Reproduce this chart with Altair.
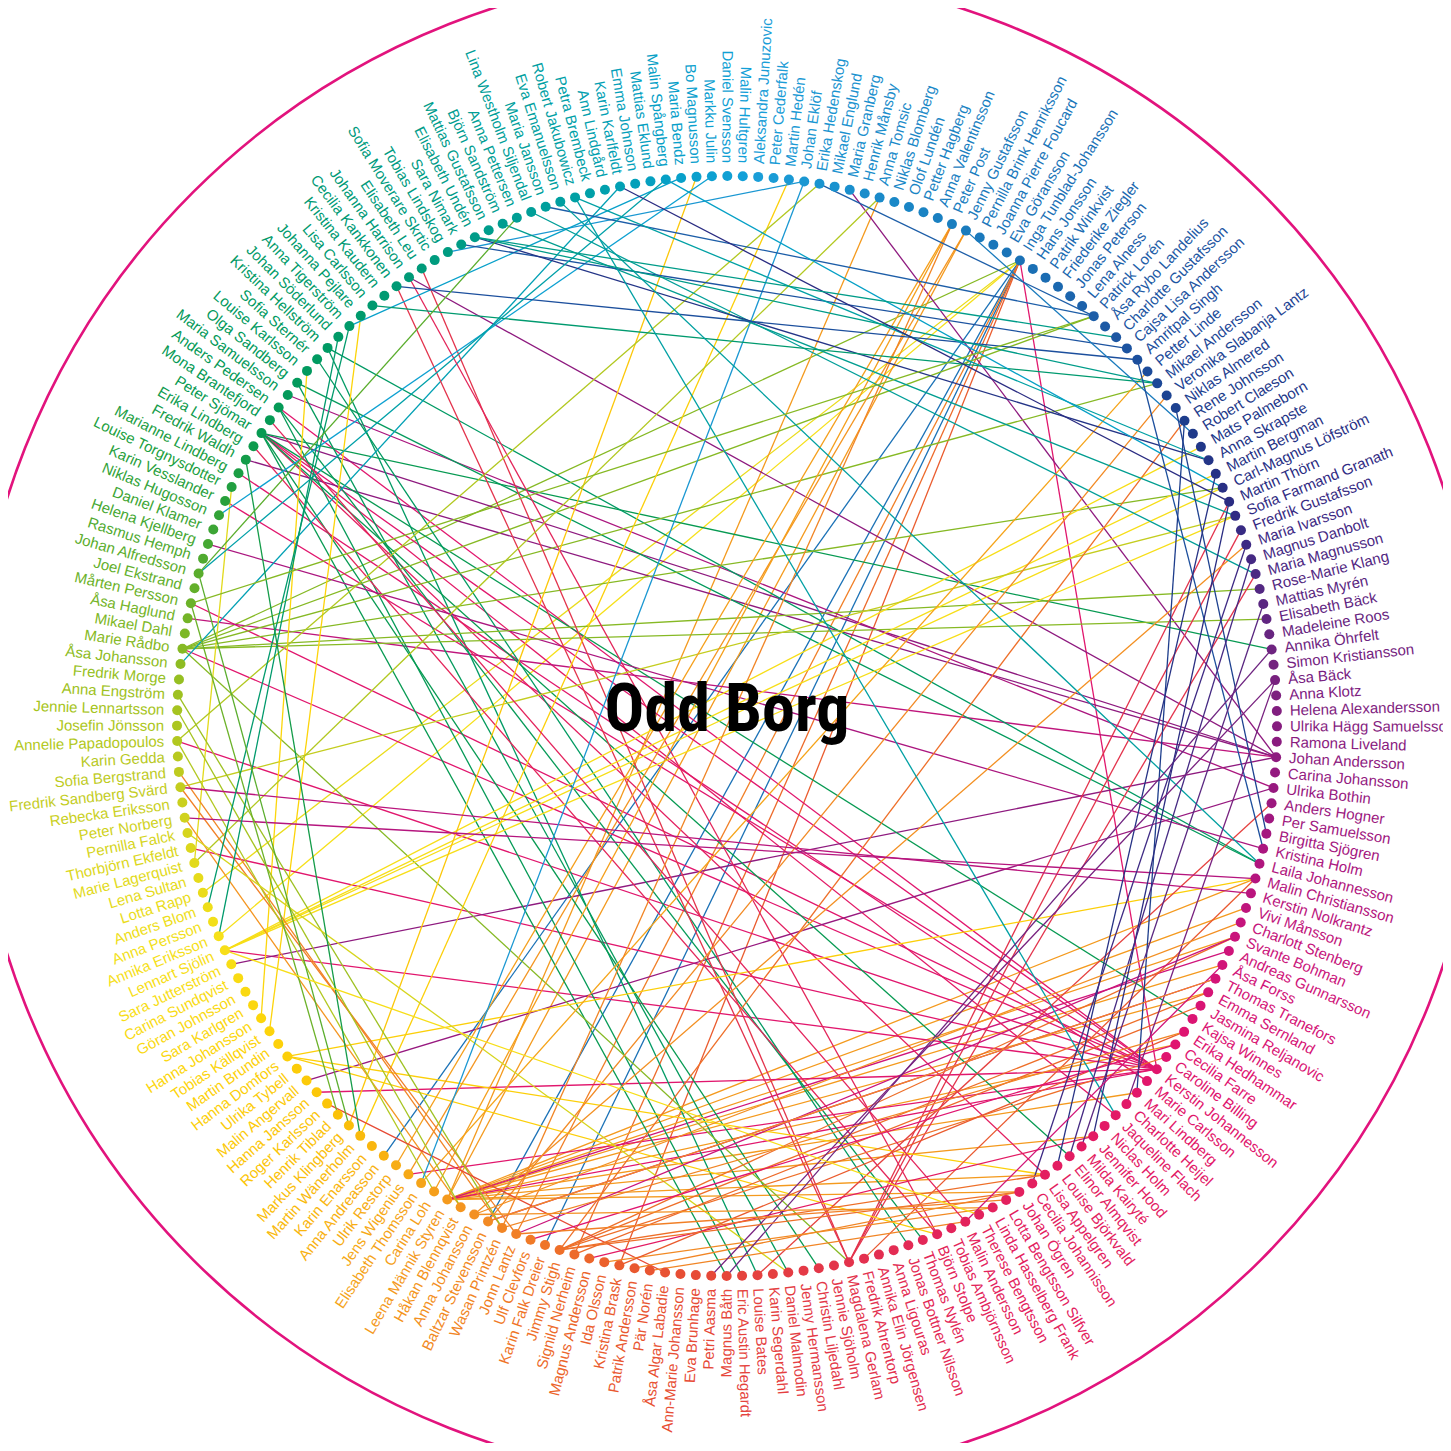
import altair as alt
import numpy as np
import pandas as pd

# ---------------- data ----------------
names = [
    "Aleksandra Junuzovic", "Peter Cederfalk", "Martin Hedén", "Johan Eklöf", "Erika Hedenskog",
    "Mikael Englund", "Maria Granberg", "Henrik Månsby", "Anna Tomsic", "Niklas Blomberg",
    "Olof Lundén", "Petter Hagberg", "Anna Valentinsson", "Peter Post", "Jenny Gustafsson",
    "Pernilla Brink Henriksson", "Joanna Pierre Foucard", "Eva Göransson", "Inga Tunblad-Johansson",
    "Hans Jonsson", "Patrik Winkvist", "Friederike Ziegler", "Jonas Peterson", "Lena Alness",
    "Patrick Lorén", "Åsa Rybo Landelius", "Charlotte Gustafsson", "Cajsa Lisa Andersson",
    "Amritpal Singh", "Petter Linde", "Mikael Andersson", "Veronika Slabanja Lantz", "Niklas Almered",
    "Rene Johnsson", "Robert Claeson", "Mats Palmeborn", "Anna Skrapste", "Martin Bergman",
    "Carl-Magnus Löfström", "Martin Thörn", "Sofia Farmand Granath", "Fredrik Gustafsson",
    "Maria Ivarsson", "Magnus Danbolt", "Maria Magnusson", "Rose-Marie Klang", "Mattias Myrén",
    "Elisabeth Bäck", "Madeleine Roos", "Annika Öhrfelt", "Simon Kristiansson", "Åsa Bäck",
    "Anna Klotz", "Helena Alexandersson", "Ulrika Hägg Samuelsson", "Ramona Liveland",
    "Johan Andersson", "Carina Johansson", "Ulrika Bothin", "Anders Hogner", "Per Samuelsson",
    "Birgitta Sjögren", "Kristina Holm", "Laila Johannesson", "Malin Christiansson",
    "Kerstin Nolkrantz", "Vivi Månsson", "Charlott Stenberg", "Svante Bohman", "Andreas Gunnarsson",
    "Åsa Forss", "Thomas Tranefors", "Emma Sernland", "Jasmina Reljanovic", "Kajsa Winnes",
    "Erika Hedhammar", "Cecilia Farre", "Caroline Billing", "Kerstin Johannesson", "Marie Carlsson",
    "Mari Lindberg", "Charlotte Heijel", "Jaqueline Flach", "Niclas Holm", "Jennifer Hood",
    "Milda Kairyté", "Elinor Almqvist", "Louise Björkvald", "Lisa Appelgren", "Cecilia Johannisson",
    "Johan Ögren", "Lotta Bengtsson Silfver", "Linda Hasselberg Frank", "Therese Bengtsson",
    "Malin Andersson", "Tobias Ambjörnsson", "Björn Stolpe", "Thomas Nylén", "Jonas Bottner Nilsson",
    "Anna Ligouras", "Annika Elin Jörgensen", "Fredrik Ahrentorp", "Magdalena Gerlam",
    "Jennie Sjöholm", "Christin Liljedahl", "Jenny Hermansson", "Daniel Malmodin", "Karin Segerdahl",
    "Louise Bates", "Eric Austin Hegardt", "Magnus Båth", "Petri Aasma", "Eva Brunhage",
    "Ann-Marie Johansson", "Åsa Algar Labadie", "Pär Norén", "Patrik Andersson", "Kristina Brask",
    "Ida Olsson", "Magnus Andersson", "Signild Nerheim", "Jimmy Stigh", "Karin Falk Dreier",
    "Ulf Clevfors", "Jonn Lantz", "Wasan Printzén", "Baltzar Stevensson", "Anna Johansson",
    "Håkan Blennqvist", "Leena Männik Styren", "Carina Loh", "Elisabeth Thomsson", "Jens Wigenius",
    "Ulrik Restorp", "Anna Andreasson", "Karin Enarsson", "Martin Wänerholm", "Markus Klingberg",
    "Henrik Tiblad", "Roger Karlsson", "Hanna Jansson", "Malin Angervall", "Ulrika Tybell",
    "Hanna Domfors", "Martin Brundin", "Tobias Källqvist", "Hanna Johansson", "Sara Karlgren",
    "Göran Johnsson", "Carina Sundqvist", "Sara Jutterström", "Lennart Sjölin", "Annika Eriksson",
    "Anna Persson", "Anders Blom", "Lotta Rapp", "Lena Sultan", "Marie Lagerquist",
    "Thorbjörn Ekfeldt", "Pernilla Falck", "Peter Norberg", "Rebecka Eriksson",
    "Fredrik Sandberg Svärd", "Sofia Bergstrand", "Karin Gedda", "Annelie Papadopoulos",
    "Josefin Jönsson", "Jennie Lennartsson", "Anna Engström", "Fredrik Morge", "Åsa Johansson",
    "Marie Rådbo", "Mikael Dahl", "Åsa Haglund", "Mårten Persson", "Joel Ekstrand",
    "Johan Alfredsson", "Rasmus Hemph", "Helena Kjellberg", "Daniel Klamer", "Niklas Hugosson",
    "Karin Vesslander", "Louise Torgnysdotter", "Marianne Lindberg", "Fredrik Waldh",
    "Erika Lindberg", "Peter Sjömar", "Mona Brantefjord", "Anders Pedersen", "Maria Samuelsson",
    "Olga Sandberg", "Louise Karlsson", "Sofia Sternér", "Kristina Hellström", "Johan Söderlund",
    "Anna Tigerström", "Johanna Pejlare", "Lisa Carlsson", "Kristina Kaudern", "Cecilia Kankkonen",
    "Johanna Harrison", "Elisabeth Leu", "Sofia Moverare Skrtic", "Tobias Lindskog", "Sara Nimark",
    "Elisabeth Undén", "Mattias Gustafsson", "Björn Sandström", "Anna Pettersen",
    "Lina Westholm Siljendal", "Maria Jansson", "Eva Emanuelsson", "Robert Jakubowicz",
    "Petra Brembeck", "Ann Lindgård", "Karin Karlfeldt", "Emma Johnson", "Mattias Eklund",
    "Malin Spångberg", "Maria Bendz", "Bo Magnusson", "Markku Julin", "Daniel Svensson",
    "Malin Hultgren",
]

# colour ramp along the ring (ring position -> colour)
ramp_pos = [0, 19, 24, 29, 33, 39, 42, 46, 50, 55, 60, 64, 69, 76, 84, 96, 103, 111,
            117, 122, 127, 132, 138, 145, 152, 157, 162, 167, 171, 176, 181, 186, 193,
            201, 207, 213, 218, 223]
ramp_col = ["#1a9ed8", "#1a6fb4", "#1d5ea8", "#1c4b9a", "#1d3d8c", "#2a2c82", "#3e2a84",
            "#5a2781", "#74237f", "#8a1b7f", "#a0177f", "#b5157e", "#cf147a", "#e01470",
            "#e31a63", "#e3255a", "#e3354a", "#e64838", "#ea5b2d", "#ef7428", "#f39023",
            "#f6a916", "#fbc208", "#fdd40a", "#f6e01a", "#e2da1b", "#c4cd1f", "#a6c420",
            "#86b924", "#5aad2d", "#28a03b", "#079a52", "#009a64", "#009a7a", "#009d90",
            "#00a0a8", "#06a0c6", "#12a0d8"]

# connections between people (ring indices); line colour = colour of person in edge_col
edge_a = [155, 117, 18, 18, 18, 78, 171, 124, 120, 152,
          129, 129, 129, 129, 129, 129, 129, 129, 129, 129, 129, 129, 78, 69,
          78, 78, 78, 78, 78, 78, 78, 78, 78, 78, 79, 82, 88,
          56, 56, 56, 56, 56, 56, 58, 58,
          186, 186, 188, 188, 193, 190, 190, 193, 192, 186, 186, 186, 96, 62,
          171, 171, 171, 171, 171, 171, 215,
          102, 102, 102, 102, 102, 96,
          151, 151, 151, 151, 162, 157, 146, 145, 143, 143, 143, 137, 136, 157, 165,
          131, 126, 127, 121, 133, 132, 130, 125, 121, 121, 121, 125, 128, 124, 168, 167,
          165, 159, 114, 108, 101, 116, 118, 115, 117, 120,
          71, 68, 76, 84, 65, 64,
          3, 3, 219, 221, 24, 209, 207, 27, 36, 28, 197, 212, 212, 211, 218, 205, 14, 218,
          194, 195, 24, 39, 205,
          32, 28, 33, 37, 39, 43, 46, 51, 49, 51, 42,
          174, 176, 184, 176, 174,
          121, 121, 124, 127, 94, 70, 151,
          127, 126, 125]
edge_b = [18, 18, 134, 122, 126, 18, 18, 18, 18, 18,
          64, 66, 68, 70, 72, 76, 80, 84, 88, 90, 14, 8, 129, 129,
          151, 158, 165, 171, 174, 181, 186, 188, 132, 140, 183, 186, 186,
          6, 200, 186, 184, 150, 173, 141, 189,
          74, 49, 97, 109, 108, 106, 63, 63, 98, 110, 104, 86, 185, 178,
          45, 47, 24, 30, 38, 102, 170,
          39, 41, 44, 201, 199, 200,
          35, 37, 38, 40, 40, 182, 191, 196, 64, 88, 96, 220, 2, 8, 4,
          29, 31, 42, 33, 13, 14, 13, 13, 77, 72, 68, 163, 160, 162, 125, 128,
          130, 106, 139, 59, 64, 90, 92, 94, 75, 73,
          126, 124, 123, 119, 162, 160,
          131, 203, 195, 180, 210, 44, 40, 204, 205, 199, 30, 36, 82, 63, 38, 30, 34, 176,
          152, 154, 4, 215, 26,
          61, 62, 80, 87, 84, 86, 85, 81, 110, 111, 89,
          138, 137, 136, 208, 24,
          88, 90, 91, 92, 187, 94, 93,
          67, 71, 75]
edge_col = [155, 117, 18, 18, 18, 78, 171, 124, 120, 152,
            129, 129, 129, 129, 129, 129, 129, 129, 129, 129, 129, 129, 78, 69,
            78, 78, 78, 78, 78, 78, 78, 78, 78, 78, 79, 82, 88,
            56, 56, 56, 56, 56, 66, 58, 62,
            186, 186, 188, 188, 193, 190, 190, 193, 192, 186, 186, 186, 96, 62,
            171, 171, 171, 171, 171, 171, 215,
            102, 102, 102, 102, 102, 96,
            151, 151, 151, 151, 162, 157, 146, 145, 143, 143, 143, 140, 143, 165, 165,
            131, 126, 127, 121, 130, 128, 130, 125, 121, 121, 121, 125, 128, 124, 168, 167,
            165, 159, 112, 108, 116, 125, 126, 125, 117, 120,
            71, 68, 76, 84, 65, 64,
            3, 3, 219, 221, 24, 209, 207, 27, 36, 28, 197, 212, 212, 211, 218, 205, 14, 213,
            196, 196, 24, 39, 205,
            32, 28, 33, 37, 39, 43, 46, 51, 49, 51, 42,
            174, 176, 184, 176, 171,
            121, 121, 124, 127, 94, 70, 151,
            127, 126, 125]

title_text = "Odd Borg"

# ---------------- layout ----------------
N = len(names)
W, H = 1435, 1435
CX, CY, R = 719.0, 718.0, 550.0          # ring centre / radius in plot pixels
R_OUT = 755.0                             # outer frame circle radius
theta0 = 3.25
theta = theta0 + np.arange(N) * 360.0 / N
rad = np.deg2rad(theta)

nodes = pd.DataFrame({
    "name": names,
    "idx": np.arange(N),
    "ux": np.sin(rad),
    "uy": np.cos(rad),
    "side": np.where(theta < 180, "r", "l"),
})
nodes["rot"] = np.where(theta < 180, theta - 90, theta - 270) % 360

a = np.array(edge_a)
b = np.array(edge_b)
edges = pd.DataFrame({
    "col": edge_col,
    "x": np.sin(rad[a]), "y": np.cos(rad[a]),
    "x2": np.sin(rad[b]), "y2": np.cos(rad[b]),
})

xs = alt.Scale(domain=[-CX / R, (W - CX) / R], nice=False, zero=False)
ys = alt.Scale(domain=[-(H - CY) / R, CY / R], nice=False, zero=False)
cs = alt.Scale(domain=ramp_pos, range=ramp_col, interpolate="rgb")

X = lambda f: alt.X(f, scale=xs, axis=None)
Y = lambda f: alt.Y(f, scale=ys, axis=None)

frame = alt.Chart(pd.DataFrame({"ux": [0.0], "uy": [0.0]})).mark_point(
    shape="circle", filled=False, size=float((2 * R_OUT) ** 2),
    strokeWidth=2.6, color="#e2137d", opacity=1,
).encode(x=X("ux:Q"), y=Y("uy:Q"))

links = alt.Chart(edges).mark_rule(strokeWidth=1.3).encode(
    x=X("x:Q"), y=Y("y:Q"), x2="x2:Q", y2="y2:Q",
    color=alt.Color("col:Q", scale=cs, legend=None),
)

dots = alt.Chart(nodes).mark_circle(size=100, opacity=1).encode(
    x=X("ux:Q"), y=Y("uy:Q"),
    color=alt.Color("idx:Q", scale=cs, legend=None),
)

lab_font = "Liberation Sans, Arial, Helvetica, sans-serif"
labels_r = alt.Chart(nodes).transform_filter(alt.datum.side == "r").mark_text(
    align="left", baseline="middle", dx=13, font=lab_font, fontSize=15,
).encode(
    x=X("ux:Q"), y=Y("uy:Q"), text="name:N",
    angle=alt.Angle("rot:Q", scale=None),
    color=alt.Color("idx:Q", scale=cs, legend=None),
)
labels_l = alt.Chart(nodes).transform_filter(alt.datum.side == "l").mark_text(
    align="right", baseline="middle", dx=-13, font=lab_font, fontSize=15,
).encode(
    x=X("ux:Q"), y=Y("uy:Q"), text="name:N",
    angle=alt.Angle("rot:Q", scale=None),
    color=alt.Color("idx:Q", scale=cs, legend=None),
)

title = alt.Chart(pd.DataFrame({"ux": [0.0], "uy": [0.0], "t": [title_text]})).mark_text(
    font="Roboto Condensed, Liberation Sans Narrow, Roboto, sans-serif",
    fontWeight="bold", fontSize=66, baseline="alphabetic", align="center", dy=5,
    color="#000000",
).encode(x=X("ux:Q"), y=Y("uy:Q"), text="t:N")

chart = alt.layer(frame, links, dots, labels_r, labels_l, title).properties(
    width=W, height=H, padding=0, autosize=alt.AutoSizeParams(type="none"),
).configure_view(stroke=None)

chart.save("out.html", embed_options={"renderer": "svg", "actions": False})
